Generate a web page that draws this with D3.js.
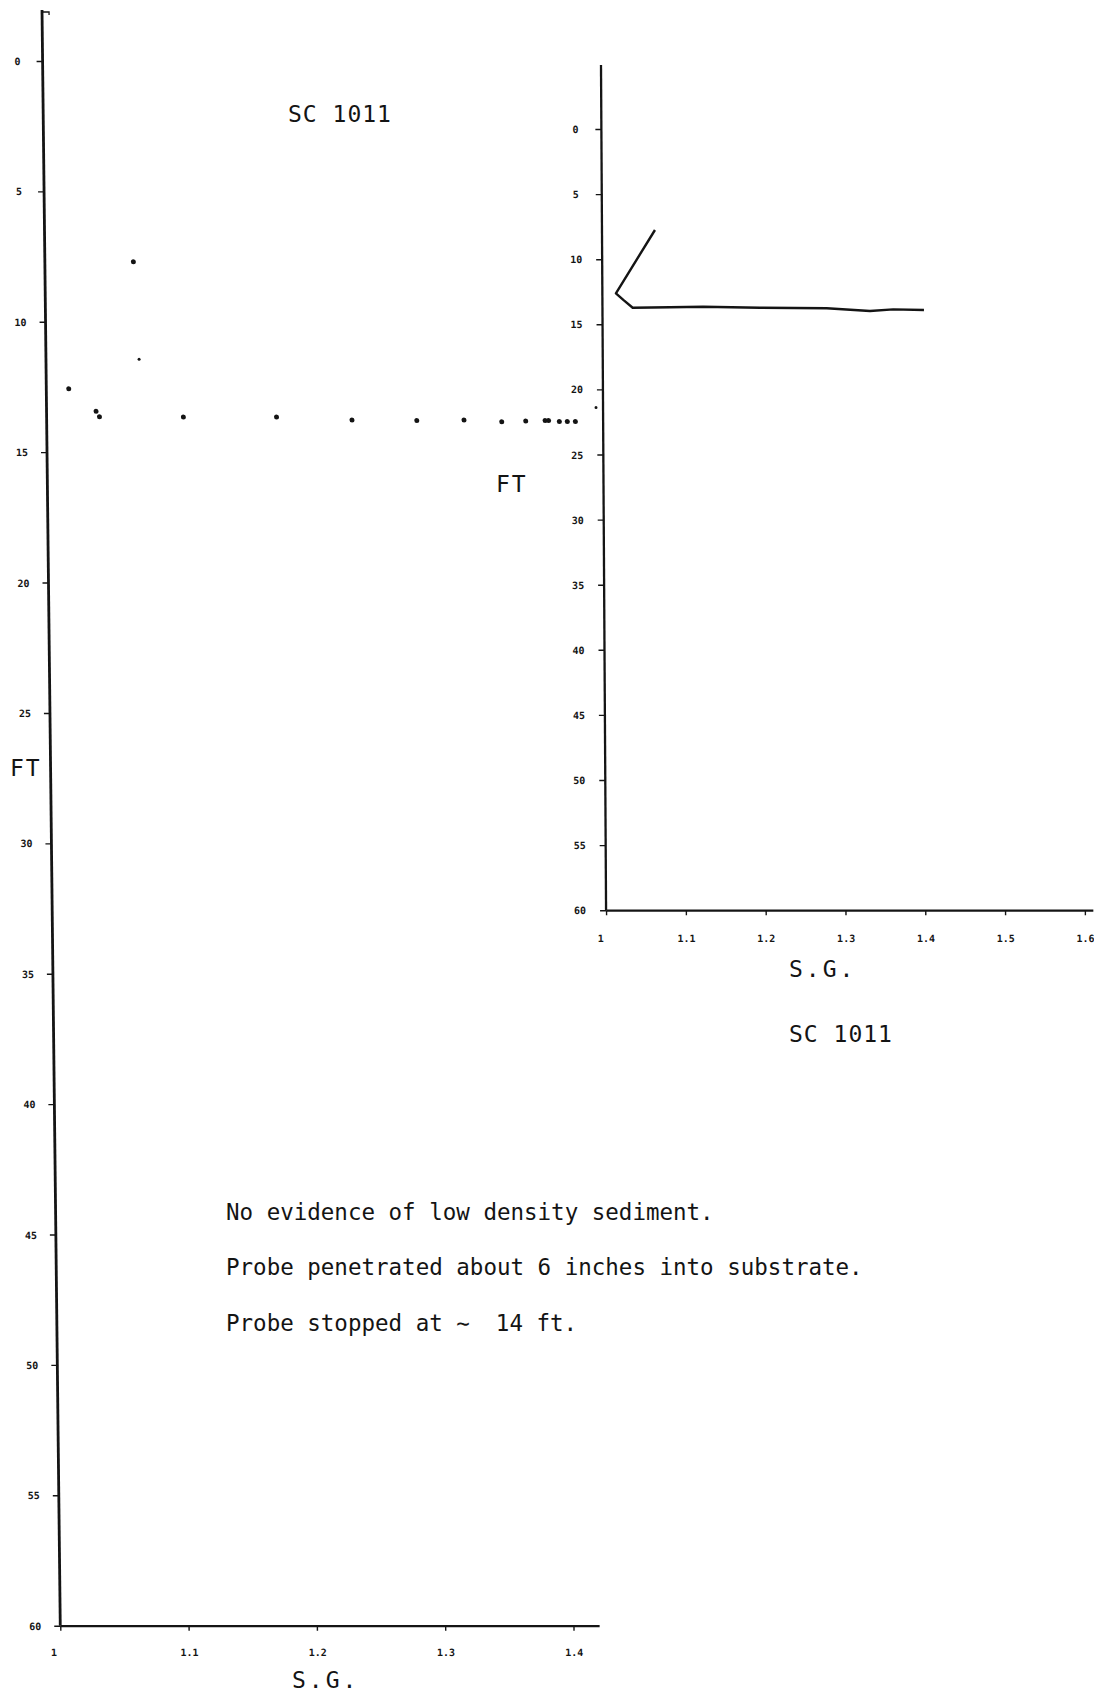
<!DOCTYPE html>
<html>
<head>
<meta charset="utf-8">
<script src="https://cdn.jsdelivr.net/npm/d3@7"></script>
<style>
  html, body { margin: 0; padding: 0; background: #fff; }
  svg { display: block; }
  svg text { font-family: "DejaVu Sans Mono", monospace; fill: #141414; }
</style>
</head>
<body>
<svg id="chart" width="1094" height="1694"></svg>
<script>
// Axis tick values
const depthTicks = [0, 5, 10, 15, 20, 25, 30, 35, 40, 45, 50, 55, 60];
const sgTicksProfile = [1, 1.1, 1.2, 1.3, 1.4];
const sgTicksInset = [1, 1.1, 1.2, 1.3, 1.4, 1.5, 1.6];

// Discrete probe readings: specific gravity vs depth (ft)
const pointSG    = [1.069, 1.0726, 1.0175, 1.0386, 1.0412, 1.1066, 1.1792, 1.2380, 1.2885, 1.3253, 1.3547, 1.3734, 1.3885, 1.3912, 1.3996, 1.4058, 1.4121, 1.4283];
const pointDepth = [7.70, 11.44, 12.57, 13.43, 13.64, 13.65, 13.65, 13.77, 13.79, 13.77, 13.83, 13.80, 13.79, 13.79, 13.82, 13.82, 13.82, 13.29];
const pointKind  = ["L", "S", "L", "L", "L", "L", "L", "L", "L", "L", "L", "L", "L", "L", "L", "L", "L", "S"];

// Continuous trace of the same profile
const traceSG    = [1.0664, 1.0170, 1.0262, 1.0379, 1.0846, 1.1263, 1.1974, 1.2810, 1.3352, 1.3644, 1.4029];
const traceDepth = [7.757, 12.62, 13.13, 13.73, 13.69, 13.65, 13.73, 13.77, 13.98, 13.85, 13.90];

const stationLabel = "SC 1011";
const depthLabel = "FT";
const sgLabel = "S.G.";
const notes = [
  ["No evidence of low density sediment."],
  ["Probe penetrated about 6 inches into substrate."],
  ["Probe stopped at \u223C", "14 ft."]
];

const ink = "#141414";
const svg = d3.select("#chart");

function styleAxis(g, fs) {
  g.attr("font-family", null).attr("font-size", fs).attr("color", ink);
  g.selectAll(".tick line").attr("stroke-width", 1.4);
  g.selectAll(".tick text").attr("font-weight", "bold").attr("font-size", fs);
}

// ---------- Full-depth profile (left) ----------
const skewL = Math.atan(0.0113) * 180 / Math.PI;
const xL = d3.scaleLinear().domain([1, 1.42]).range([41.9, 41.9 + 0.42 * 1283]);
const yL = d3.scaleLinear().domain([0, 60]).range([61, 1625.7]);
const gL = svg.append("g").attr("transform", `skewX(${skewL})`);

// vertical spine extends above the zero tick
gL.append("line")
  .attr("x1", xL(1)).attr("x2", xL(1))
  .attr("y1", 10).attr("y2", yL(60))
  .attr("stroke", ink).attr("stroke-width", 2.8);
gL.append("path")
  .attr("d", `M${xL(1)},12 h7 v3`)
  .attr("fill", "none").attr("stroke", ink).attr("stroke-width", 1.3);

gL.append("g")
  .attr("transform", `translate(${xL(1)},0)`)
  .call(d3.axisLeft(yL).tickValues(depthTicks).tickSize(6).tickFormat(d3.format("d")))
  .call(g => g.select(".domain").remove())
  .call(g => styleAxis(g, 10))
  .call(g => g.selectAll(".tick text").attr("x", -25).attr("text-anchor", "middle").attr("dy", "0.35em"));

gL.append("g")
  .attr("transform", `translate(0,${yL(60)})`)
  .call(d3.axisBottom(xL).tickValues(sgTicksProfile).tickSize(5).tickSizeOuter(0)
        .tickFormat(d => d === 1 ? "1" : d3.format(".1f")(d)))
  .call(g => g.select(".domain").attr("stroke-width", 2.3))
  .call(g => styleAxis(g, 10))
  .call(g => g.selectAll(".tick text").attr("y", 27).attr("dy", "0.35em")
        .attr("x", d => d === 1 ? -7 : 0));

gL.append("g")
  .selectAll("circle")
  .data(d3.range(pointSG.length))
  .join("circle")
  .attr("cx", i => xL(pointSG[i]))
  .attr("cy", i => yL(pointDepth[i]))
  .attr("r", i => pointKind[i] === "L" ? 2.5 : 1.5)
  .attr("fill", ink);

// ---------- Upper-section inset (right) ----------
const skewR = Math.atan(0.006) * 180 / Math.PI;
const xR = d3.scaleLinear().domain([1, 1.61]).range([600.6, 600.6 + 0.61 * 798]);
const yR = d3.scaleLinear().domain([0, 60]).range([129, 910.2]);
const gR = svg.append("g").attr("transform", `skewX(${skewR})`);

gR.append("line")
  .attr("x1", xR(1)).attr("x2", xR(1))
  .attr("y1", 65).attr("y2", yR(60))
  .attr("stroke", ink).attr("stroke-width", 2.3);

gR.append("g")
  .attr("transform", `translate(${xR(1)},0)`)
  .call(d3.axisLeft(yR).tickValues(depthTicks).tickSize(6).tickFormat(d3.format("d")))
  .call(g => g.select(".domain").remove())
  .call(g => styleAxis(g, 10))
  .call(g => g.selectAll(".tick text").attr("x", -26).attr("text-anchor", "middle").attr("dy", "0.35em"));

gR.append("g")
  .attr("transform", `translate(0,${yR(60)})`)
  .call(d3.axisBottom(xR).tickValues(sgTicksInset).tickSize(5).tickSizeOuter(0)
        .tickFormat(d => d === 1 ? "1" : d3.format(".1f")(d)))
  .call(g => g.select(".domain").attr("stroke-width", 2.3))
  .call(g => styleAxis(g, 10))
  .call(g => g.selectAll(".tick text").attr("y", 28).attr("dy", "0.35em")
        .attr("x", d => d === 1 ? -6 : 0));

const trace = d3.line()
  .x(i => xR(traceSG[i]))
  .y(i => yR(traceDepth[i]));
gR.append("path")
  .attr("d", trace(d3.range(traceSG.length)))
  .attr("fill", "none").attr("stroke", ink)
  .attr("stroke-width", 2.4).attr("stroke-linejoin", "round");

// ---------- Titles, axis names and notes ----------
const big = 23;
svg.append("text").attr("x", 288).attr("y", 121.5).attr("font-size", big)
  .attr("letter-spacing", 1).text(stationLabel);
svg.append("text").attr("x", 789).attr("y", 1042).attr("font-size", big)
  .attr("letter-spacing", 1).text(stationLabel);

svg.append("text").attr("x", 292).attr("y", 1688).attr("font-size", big)
  .attr("letter-spacing", 3).text(sgLabel);
svg.append("text").attr("x", 789).attr("y", 977).attr("font-size", big)
  .attr("letter-spacing", 3).text(sgLabel);

svg.append("text").attr("x", 10).attr("y", 776).attr("font-size", big)
  .attr("letter-spacing", 2).text(depthLabel);
svg.append("text").attr("x", 496).attr("y", 492).attr("font-size", big)
  .attr("letter-spacing", 2).text(depthLabel);

const noteBase = [1220, 1275, 1331];
const noteLines = svg.append("g")
  .selectAll("text")
  .data(notes)
  .join("text")
  .attr("x", 226)
  .attr("y", (d, i) => noteBase[i])
  .attr("font-size", 22.5);
noteLines.selectAll("tspan")
  .data(d => d)
  .join("tspan")
  .attr("dx", (d, j) => j === 0 ? 0 : 26)
  .text(d => d);
</script>
</body>
</html>
